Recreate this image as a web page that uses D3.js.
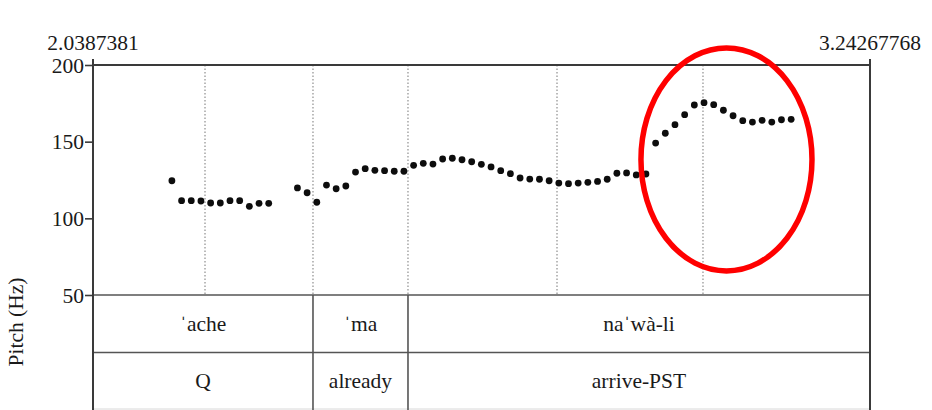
<!DOCTYPE html>
<html>
<head>
<meta charset="utf-8">
<script src="https://cdn.jsdelivr.net/npm/d3@7/dist/d3.min.js"></script>
<style>
  html, body { margin: 0; padding: 0; background: #ffffff; }
  svg { display: block; }
</style>
</head>
<body>
<svg id="chart" width="932" height="410"></svg>
<script>
// Time window of the selection (s)
const timeStart = 2.0387381;
const timeEnd = 3.24267768;

// Pitch track: sample times (s) and F0 (Hz)
const pitchTimes = [
  2.161, 2.176, 2.191, 2.206, 2.221, 2.236, 2.251, 2.266, 2.281, 2.296, 2.311,
  2.3555, 2.3705, 2.3855, 2.4005, 2.4155, 2.4305, 2.4455, 2.4605, 2.4755, 2.4905, 2.5055, 2.5205,
  2.5355, 2.5505, 2.5655, 2.5805, 2.5955, 2.6105, 2.6255, 2.6405, 2.6555, 2.6705, 2.6855, 2.7005,
  2.7155, 2.7305, 2.7455, 2.7605, 2.7755, 2.7905, 2.8055, 2.8205, 2.8355, 2.8505, 2.8655, 2.8805,
  2.8955, 2.9105, 2.9255, 2.9405, 2.9555, 2.9705, 2.9855, 3.0005, 3.0155, 3.0305, 3.0455, 3.0605,
  3.0755, 3.0905, 3.1055, 3.1205
];
const pitchHz = [
  124.5, 111.5, 111.5, 111.3, 110.0, 110.0, 111.5, 111.5, 107.8, 109.8, 109.8,
  119.8, 116.7, 110.5, 121.7, 119.3, 121.1, 130.2, 132.4, 131.3, 131.1, 130.7, 130.7,
  134.6, 135.9, 135.4, 138.7, 139.2, 138.2, 136.9, 135.2, 133.5, 131.1, 129.1, 126.3,
  125.6, 125.5, 124.5, 123.0, 122.6, 123.0, 123.5, 124.1, 125.5, 129.4, 129.6, 128.3,
  128.9, 149.1, 155.5, 161.1, 167.6, 173.9, 175.4, 174.1, 170.5, 166.9, 163.7, 162.8,
  163.9, 162.8, 164.3, 164.6
];

// Pitch axis
const pitchRange = [50, 200];
const pitchTicks = [50, 100, 150, 200];

// Syllable boundaries drawn as dotted guides (s)
const guideTimes = [2.2123, 2.3796, 2.5268, 2.7577, 2.9839];

// Word tier and gloss tier (interval boundaries in s)
const wordBounds = [2.3796, 2.5268];
const wordLabels = ["\u02C8ache", "\u02C8ma", "na\u02C8w\u00E0-li"];
const glossLabels = ["Q", "already", "arrive-PST"];

// Highlighted region (time span in s, pitch span in Hz)
const highlightTime = [2.8878, 3.1528];
const highlightHz = [65.7, 211.1];

const FONT = "'Liberation Serif', Tinos, 'Times New Roman', Times, 'DejaVu Serif', serif";
const FS = 21.5;
const INK = "#1a1a1a";

const svg = d3.select("#chart");
const W = 932, H = 410;
const plotLeft = 93, plotRight = 870, plotTop = 65, plotBottom = 295;
const tierMid = 352.5, tierBottom = 409;

svg.append("rect").attr("width", W).attr("height", H).attr("fill", "#ffffff");

const x = d3.scaleLinear().domain([timeStart, timeEnd]).range([plotLeft, plotRight]);
const y = d3.scaleLinear().domain(pitchRange).range([plotBottom, plotTop]);

function label(sel) {
  return sel.style("font-family", FONT).style("font-size", FS + "px").attr("fill", INK);
}

// Dotted syllable guides
svg.append("g").selectAll("line").data(guideTimes).join("line")
  .attr("x1", d => x(d)).attr("x2", d => x(d))
  .attr("y1", plotTop).attr("y2", plotBottom)
  .attr("stroke", "#777").attr("stroke-width", 1)
  .attr("stroke-dasharray", "1.5,2");

// Tier grid
const grid = svg.append("g").attr("stroke", "#555").attr("fill", "none");
grid.append("line").attr("x1", plotLeft).attr("x2", plotRight).attr("y1", y(50)).attr("y2", y(50)).attr("stroke-width", 1.6);
grid.append("line").attr("x1", plotLeft).attr("x2", plotRight).attr("y1", tierMid).attr("y2", tierMid).attr("stroke-width", 1.6);
grid.append("line").attr("x1", plotLeft).attr("x2", plotRight).attr("y1", tierBottom).attr("y2", tierBottom)
  .attr("stroke", "#d8d8d8").attr("stroke-width", 1);
grid.selectAll("line.b").data(wordBounds).join("line").attr("class", "b")
  .attr("x1", d => x(d)).attr("x2", d => x(d))
  .attr("y1", y(50)).attr("y2", H)
  .attr("stroke-width", 1.6);

// Outer frame
const frame = svg.append("g").attr("stroke", "#3a3a3a").attr("stroke-width", 2).attr("fill", "none");
frame.append("line").attr("x1", plotLeft).attr("x2", plotRight).attr("y1", y(200)).attr("y2", y(200));
frame.append("line").attr("x1", plotLeft).attr("x2", plotLeft).attr("y1", 59).attr("y2", H);
frame.append("line").attr("x1", plotRight).attr("x2", plotRight).attr("y1", 59).attr("y2", H);

// Pitch axis ticks and labels
const yAxis = d3.axisLeft(y).tickValues(pitchTicks).tickSize(8).tickPadding(1).tickFormat(d3.format("d"));
const ag = svg.append("g").attr("transform", `translate(${plotLeft},0)`).call(yAxis);
ag.attr("font-family", null).attr("font-size", null);
ag.select(".domain").remove();
ag.selectAll(".tick line").attr("stroke", "#3a3a3a").attr("stroke-width", 1.6);
ag.selectAll(".tick text").call(label).attr("dy", "0.33em");

// Axis title
svg.append("text")
  .attr("transform", `translate(23,322) rotate(-90)`)
  .attr("text-anchor", "middle").call(label)
  .text("Pitch (Hz)");

// Selection time labels
svg.append("text").attr("x", x(timeStart)).attr("y", 50)
  .attr("text-anchor", "middle").call(label).text(String(timeStart));
svg.append("text").attr("x", x(timeEnd)).attr("y", 50)
  .attr("text-anchor", "middle").call(label).text(String(timeEnd));

// Tier labels
const edges = [timeStart, ...wordBounds, timeEnd];
const mids = wordLabels.map((_, i) => (x(edges[i]) + x(edges[i + 1])) / 2);
svg.append("g").selectAll("text").data(wordLabels).join("text")
  .attr("x", (d, i) => mids[i]).attr("y", 331)
  .attr("text-anchor", "middle").call(label).text(d => d);
svg.append("g").selectAll("text").data(glossLabels).join("text")
  .attr("x", (d, i) => mids[i]).attr("y", 388)
  .attr("text-anchor", "middle").call(label).text(d => d);

// Pitch points
svg.append("g").selectAll("circle").data(pitchTimes).join("circle")
  .attr("cx", d => x(d)).attr("cy", (d, i) => y(pitchHz[i]))
  .attr("r", 3.4).attr("fill", "#0d0d0d");

// Highlight ellipse
svg.append("ellipse")
  .attr("cx", (x(highlightTime[0]) + x(highlightTime[1])) / 2)
  .attr("cy", (y(highlightHz[0]) + y(highlightHz[1])) / 2)
  .attr("rx", (x(highlightTime[1]) - x(highlightTime[0])) / 2)
  .attr("ry", (y(highlightHz[0]) - y(highlightHz[1])) / 2)
  .attr("fill", "none").attr("stroke", "#ff0000").attr("stroke-width", 5.5);
</script>
</body>
</html>
